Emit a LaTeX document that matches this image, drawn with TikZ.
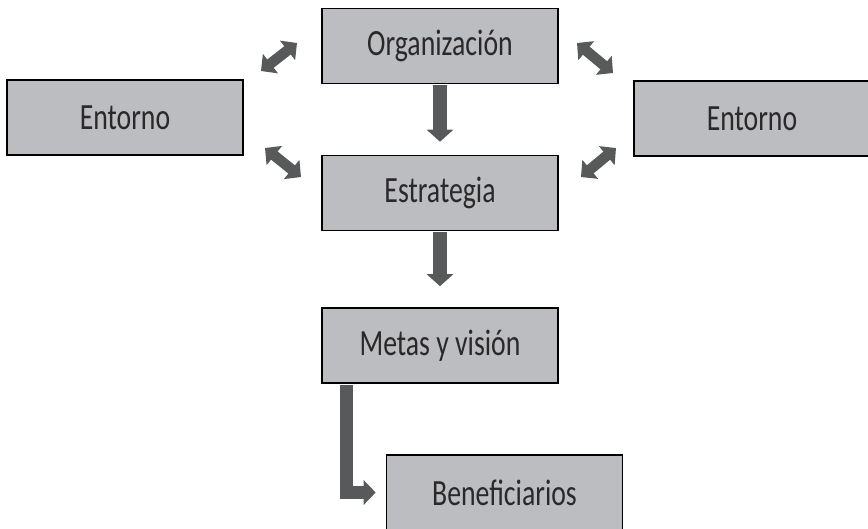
\documentclass[tikz,border=0pt]{standalone}
\usepackage{fontspec}
\setmainfont[FakeStretch=0.75]{Carlito}
\usetikzlibrary{arrows.meta}
\definecolor{boxgray}{HTML}{BCBDC0}
\definecolor{arrowgray}{HTML}{58595B}
\definecolor{textgray}{HTML}{2B2829}

\begin{document}
\begin{tikzpicture}[x=1pt,y=-1pt,
  box/.style={draw=black, line width=1.6pt, fill=boxgray, rectangle, minimum width=236pt, minimum height=75pt, inner sep=0pt, text=textgray, font=\fontsize{37}{42}\selectfont},
  fat/.style={draw=arrowgray, line width=14pt, line join=miter, -{Triangle[width=26pt,length=12pt]}},
  twoway/.style={draw=arrowgray, line width=10.5pt, {Triangle[width=24pt,length=12pt]}-{Triangle[width=24pt,length=12pt]}}]
  \useasboundingbox (0,0) rectangle (868,528);
  \clip (0,0) rectangle (868,528);

  % boxes
  \node[box] (org) at (440,46) {Organización};
  \node[box] (estr) at (440,193) {Estrategia};
  \node[box] (metas) at (440,345.5) {Metas y visión};
  \node[box] (benef) at (504.5,492.5) {Beneficiarios};
  \node[box] (entl) at (125,117.5) {Entorno};
  \node[box] (entr) at (752,118.5) {Entorno};

  % down the middle
  \draw[fat, shorten <=1pt, shorten >=13pt] (org) -- (estr);
  \draw[fat, shorten <=1pt, shorten >=21pt] (estr) -- (metas);
  \draw[fat, line width=13pt, -{Triangle[width=24pt,length=12pt]}, shorten <=1pt, shorten >=10pt]
    ([xshift=25.5pt]metas.south west) |- (benef);

  % both ways to the surroundings
  \coordinate (ula) at (261,71);  \coordinate (ulb) at (297,43);
  \coordinate (lla) at (265,148); \coordinate (llb) at (301,177);
  \coordinate (ura) at (577,43);  \coordinate (urb) at (613,73);
  \coordinate (lra) at (581,177); \coordinate (lrb) at (616,148);
  \draw[twoway] (ula) -- (ulb);
  \draw[twoway] (lla) -- (llb);
  \draw[twoway] (ura) -- (urb);
  \draw[twoway] (lra) -- (lrb);
\end{tikzpicture}
\end{document}
